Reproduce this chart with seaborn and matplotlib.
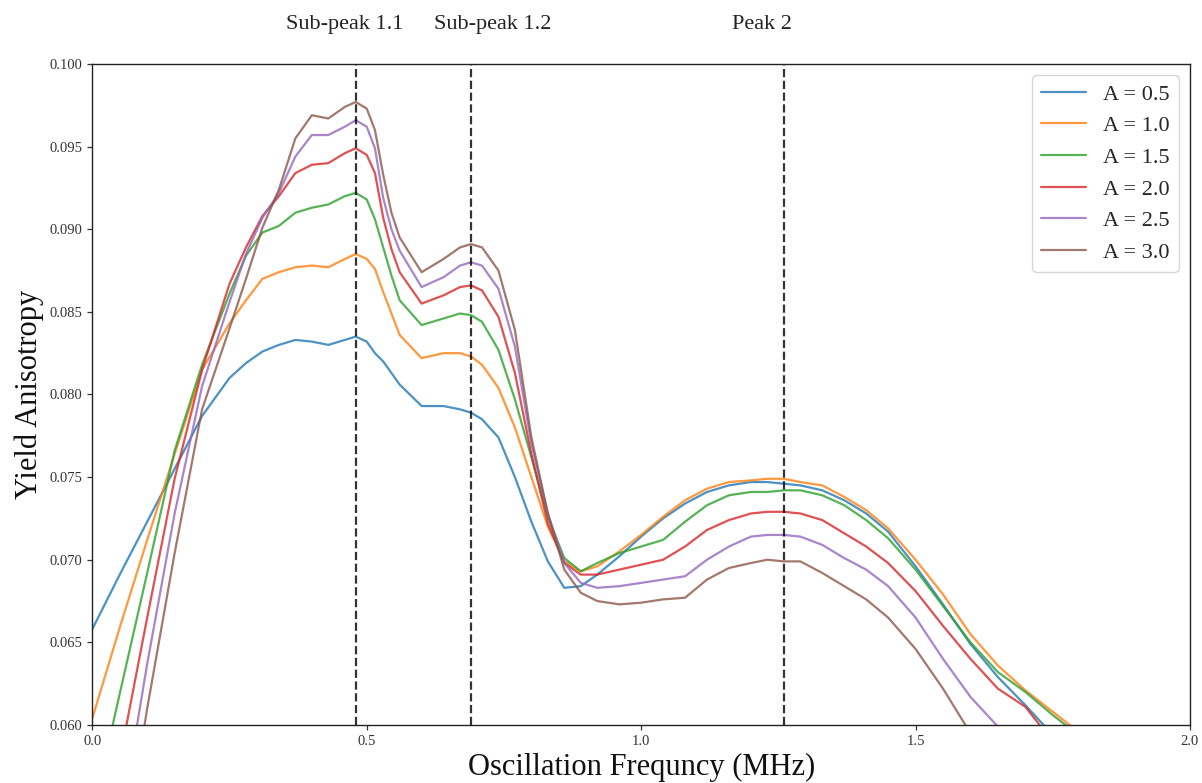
import numpy as np
import pandas as pd
import matplotlib
matplotlib.use("Agg")
import matplotlib.pyplot as plt
import matplotlib.transforms as mtransforms
import seaborn as sns

# ---------------- data ----------------
freq = [0.00, 0.05, 0.10, 0.15, 0.20, 0.25, 0.28, 0.31, 0.34, 0.37,
        0.40, 0.43, 0.46, 0.48, 0.50, 0.515, 0.53, 0.545, 0.56, 0.60, 0.64, 0.67,
        0.69, 0.71, 0.74, 0.77, 0.80, 0.83, 0.86, 0.89, 0.92, 0.96,
        1.00, 1.04, 1.08, 1.12, 1.16, 1.20, 1.23, 1.26, 1.29, 1.33,
        1.37, 1.41, 1.45, 1.50, 1.55, 1.60, 1.65, 1.70, 1.75, 1.80]

a_05 = [0.0658, 0.0691, 0.0723, 0.0755, 0.0787, 0.0810, 0.0819, 0.0826, 0.0830, 0.0833,
        0.0832, 0.0830, 0.0833, 0.0835, 0.0832, 0.0825, 0.0820, 0.0813, 0.0806, 0.0793, 0.0793, 0.0791,
        0.0789, 0.0785, 0.0774, 0.0750, 0.0723, 0.0699, 0.0683, 0.0684, 0.0691, 0.0702,
        0.0714, 0.0725, 0.0734, 0.0741, 0.0745, 0.0747, 0.0747, 0.0746, 0.0745, 0.0742,
        0.0736, 0.0728, 0.0717, 0.0696, 0.0673, 0.0649, 0.0629, 0.0612, 0.0594, 0.0575]

a_10 = [0.0604, 0.0659, 0.0712, 0.0764, 0.0815, 0.0843, 0.0857, 0.0870, 0.0874, 0.0877,
        0.0878, 0.0877, 0.0882, 0.0885, 0.0882, 0.0876, 0.0862, 0.0849, 0.0836, 0.0822, 0.0825, 0.0825,
        0.0823, 0.0818, 0.0804, 0.0780, 0.0750, 0.0720, 0.0699, 0.0693, 0.0696, 0.0705,
        0.0715, 0.0726, 0.0736, 0.0743, 0.0747, 0.0748, 0.0749, 0.0749, 0.0747, 0.0745,
        0.0738, 0.0730, 0.0719, 0.0700, 0.0679, 0.0655, 0.0636, 0.0621, 0.0608, 0.0595]

a_15 = [0.0545, 0.0619, 0.0692, 0.0766, 0.0818, 0.0861, 0.0884, 0.0898, 0.0902, 0.0910,
        0.0913, 0.0915, 0.0920, 0.0922, 0.0918, 0.0906, 0.0889, 0.0872, 0.0857, 0.0842, 0.0846, 0.0849,
        0.0848, 0.0844, 0.0827, 0.0797, 0.0762, 0.0726, 0.0701, 0.0693, 0.0698, 0.0704,
        0.0708, 0.0712, 0.0723, 0.0733, 0.0739, 0.0741, 0.0741, 0.0742, 0.0742, 0.0739,
        0.0733, 0.0724, 0.0713, 0.0694, 0.0672, 0.0650, 0.0632, 0.0620, 0.0606, 0.0593]

a_20 = [0.0491, 0.0579, 0.0665, 0.0749, 0.0815, 0.0867, 0.0889, 0.0908, 0.0920, 0.0934,
        0.0939, 0.0940, 0.0946, 0.0949, 0.0945, 0.0934, 0.0907, 0.0888, 0.0874, 0.0855, 0.0860, 0.0865,
        0.0866, 0.0863, 0.0847, 0.0813, 0.0764, 0.0722, 0.0698, 0.0691, 0.0691, 0.0694,
        0.0697, 0.0700, 0.0708, 0.0718, 0.0724, 0.0728, 0.0729, 0.0729, 0.0728, 0.0724,
        0.0716, 0.0708, 0.0698, 0.0681, 0.0660, 0.0640, 0.0622, 0.0611, 0.0590, 0.0570]

a_25 = [0.0460, 0.0537, 0.0637, 0.0728, 0.0805, 0.0856, 0.0885, 0.0907, 0.0922, 0.0944,
        0.0957, 0.0957, 0.0962, 0.0966, 0.0962, 0.0949, 0.0919, 0.0900, 0.0887, 0.0865, 0.0871, 0.0878,
        0.0880, 0.0878, 0.0864, 0.0829, 0.0770, 0.0728, 0.0698, 0.0686, 0.0683, 0.0684,
        0.0686, 0.0688, 0.0690, 0.0700, 0.0708, 0.0714, 0.0715, 0.0715, 0.0714, 0.0709,
        0.0701, 0.0694, 0.0684, 0.0665, 0.0640, 0.0617, 0.0599, 0.0580, 0.0560, 0.0540]

a_30 = [0.0400, 0.0506, 0.0610, 0.0704, 0.0791, 0.0840, 0.0870, 0.0901, 0.0924, 0.0955,
        0.0969, 0.0967, 0.0974, 0.0977, 0.0973, 0.0960, 0.0933, 0.0910, 0.0895, 0.0874, 0.0882, 0.0889,
        0.0891, 0.0889, 0.0875, 0.0839, 0.0774, 0.0728, 0.0694, 0.0680, 0.0675, 0.0673,
        0.0674, 0.0676, 0.0677, 0.0688, 0.0695, 0.0698, 0.0700, 0.0699, 0.0699, 0.0692,
        0.0684, 0.0676, 0.0665, 0.0646, 0.0622, 0.0595, 0.0570, 0.0540, 0.0510, 0.0480]

series_labels = ["A = 0.5", "A = 1.0", "A = 1.5", "A = 2.0", "A = 2.5", "A = 3.0"]
series_values = [a_05, a_10, a_15, a_20, a_25, a_30]

peak_positions = [0.48, 0.69, 1.26]
peak_texts = ["Sub-peak 1.1", "Sub-peak 1.2", "Peak 2"]
peak_text_x = [0.459, 0.730, 1.220]

x_ticks = [0.0, 0.5, 1.0, 1.5, 2.0]
y_ticks = [0.060, 0.065, 0.070, 0.075, 0.080, 0.085, 0.090, 0.095, 0.100]

# ---------------- build long table ----------------
rows = []
for lab, vals in zip(series_labels, series_values):
    assert len(vals) == len(freq)
    for xv, yv in zip(freq, vals):
        rows.append({"freq": xv, "val": yv, "series": lab})
df = pd.DataFrame(rows)

# ---------------- style ----------------
sns.set_style("ticks")
plt.rcParams["font.family"] = ["Liberation Serif", "DejaVu Serif"]
plt.rcParams["axes.edgecolor"] = "#222222"
plt.rcParams["axes.linewidth"] = 1.0

fig = plt.figure(figsize=(12.02, 7.83), dpi=100)
ax = fig.add_axes([0.0768, 0.0741, 0.9132, 0.8442])

palette = sns.color_palette("tab10", 6)
sns.lineplot(data=df, x="freq", y="val", hue="series", hue_order=series_labels,
             palette=palette, estimator=None, sort=False, linewidth=1.6,
             alpha=0.8, ax=ax)

for xp in peak_positions:
    ax.axvline(xp, color="black", linestyle="--", linewidth=1.6, alpha=0.8)

trans = mtransforms.blended_transform_factory(ax.transData, ax.transAxes)
for tx, tt in zip(peak_text_x, peak_texts):
    ax.text(tx, 1.059, tt, transform=trans, ha="center", va="center",
            fontsize=16, color="#222222")

ax.set_xlim(0, 2.0)
ax.set_ylim(0.060, 0.100)
ax.set_xticks(x_ticks)
ax.set_xticklabels([f"{t:.1f}" for t in x_ticks])
ax.set_yticks(y_ticks)
ax.set_yticklabels([f"{t:.3f}" for t in y_ticks])
ax.tick_params(axis="both", labelsize=10.5, colors="#333333", length=3.5, width=0.9)

ax.set_xlabel("Oscillation Frequncy (MHz)", fontsize=22, color="#111111")
ax.set_ylabel("Yield Anisotropy", fontsize=22, color="#111111")

handles, labels = ax.get_legend_handles_labels()
ax.legend(handles, labels, loc="upper right", fontsize=16, frameon=True)

fig.savefig("out.png", dpi=100)
